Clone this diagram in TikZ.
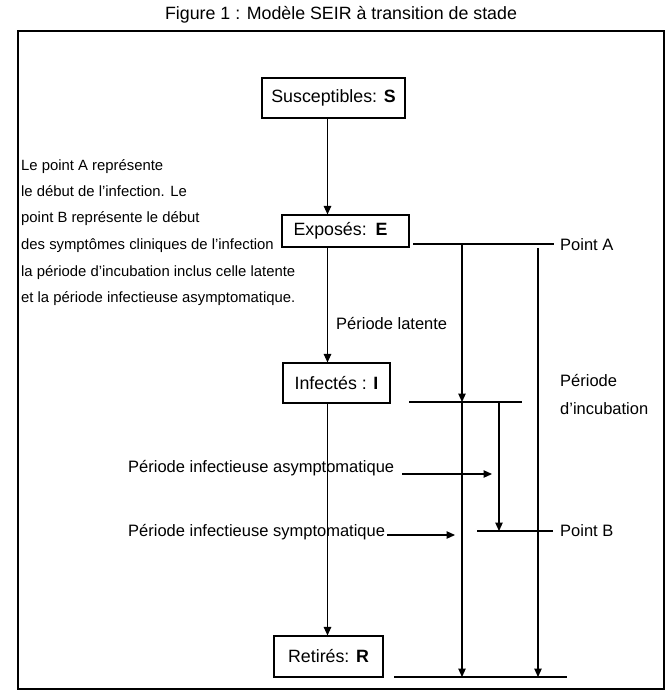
\documentclass[tikz,border=0pt]{standalone}
\usepackage{fontspec}
\setmainfont{Liberation Sans}
\usetikzlibrary{arrows.meta}
\begin{document}
\begin{tikzpicture}[x=1pt,y=-1pt,
  every node/.style={inner sep=0pt},
  box/.style={draw, line width=1.1pt, font=\fontsize{17.8}{20}\selectfont, align=center},
  lbl/.style={anchor=base west, font=\fontsize{16.5}{19}\selectfont},
  note/.style={anchor=base west, font=\fontsize{14.85}{17}\selectfont},
  ln/.style={line width=1.1pt},
  arr/.style={line width=1.1pt, -{Triangle[length=8.5pt,width=7.5pt]}}]
\useasboundingbox (0,0) rectangle (666,698);
\node[anchor=base, font=\fontsize{17.8}{20}\selectfont] (title) at (341,19.4) {Figure 1 : Modèle SEIR à transition de stade};
\draw[line width=1.2pt] (18,31) rectangle (664,689);
% boxes
\node[box, minimum width=143pt, minimum height=40pt] (S) at (333.5,98) {Susceptibles: \textbf{S}};
\node[box, text width=104pt, inner xsep=11.5pt, minimum height=32pt, align=left] (E) at (345.5,231) {Exposés: \textbf{E}};
\node[box, minimum width=107pt, minimum height=40pt] (I) at (336.5,383) {Infectés : \textbf{I}};
\node[box, minimum width=109pt, minimum height=41pt] (R) at (328.5,656.5) {Retirés: \textbf{R}};
% main chain
\coordinate (cx) at (327.5,0);
\draw[arr] (S.south -| cx) -- (E.north -| cx);
\draw[arr] (E.south -| cx) -- (I.north -| cx);
\draw[arr] (I.south -| cx) -- (R.north -| cx);
% left notes
\node[note] (l1) at (21,170.5) {Le point A représente};
\node[note] (l2) at (21,196.5) {le début de l'infection. Le};
\node[note] (l3) at (21,222.5) {point B représente le début};
\node[note] (l4) at (21,249.5) {des symptômes cliniques de l'infection};
\node[note] (l5) at (21,276.5) {la période d'incubation inclus celle latente};
\node[note] (l6) at (21,302.5) {et la période infectieuse asymptomatique.};
% labels
\node[lbl] (lat) at (336,329) {Période latente};
\node[lbl] (PA) at (560,250) {Point A};
\node[lbl] (PI1) at (560,386) {Période};
\node[lbl] (PI2) at (560,414) {d'incubation};
\node[lbl] (PB) at (560,536) {Point B};
\node[lbl] (asy) at (128,472) {Période infectieuse asymptomatique};
\node[lbl] (sym) at (128,536) {Période infectieuse symptomatique};
% structure coordinates
\coordinate (A1) at (413,244);
\coordinate (A2) at (554,244);
\coordinate (A3) at (462,244);
\coordinate (I1) at (409,402);
\coordinate (I2) at (522,402);
\coordinate (v1) at (462,402);
\coordinate (v2) at (462,677);
\coordinate (c1) at (538,248);
\coordinate (c2) at (538,677);
\coordinate (b0) at (499,402);
\coordinate (b1) at (499,531);
\coordinate (B1) at (477,531);
\coordinate (B2) at (553,531);
\coordinate (r1) at (394,677);
\coordinate (r2) at (567,677);
\coordinate (as1) at (402,474);
\coordinate (as2) at (492,474);
\coordinate (sy1) at (387,535);
\coordinate (sy2) at (455,535);
% structure
\draw[ln] (A1) -- (A2);
\draw[arr] (A3) -- (v1);
\draw[arr] (v1) -- (v2);
\draw[arr] (c1) -- (c2);
\draw[ln] (I1) -- (I2);
\draw[arr] (b0) -- (b1);
\draw[ln] (B1) -- (B2);
\draw[ln] (r1) -- (r2);
\draw[arr] (as1) -- (as2);
\draw[arr] (sy1) -- (sy2);
\end{tikzpicture}
\end{document}
